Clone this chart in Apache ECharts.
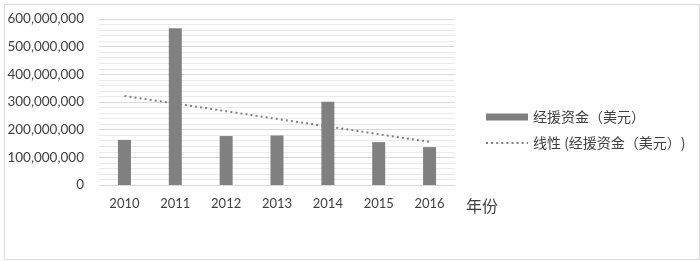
<!DOCTYPE html>
<html>
<head>
<meta charset="utf-8">
<script src="https://cdn.jsdelivr.net/npm/echarts@6/dist/echarts.min.js"></script>
<style>
	html, body { margin: 0; padding: 0; background: #fff; }
	#chart { width: 700px; height: 261px; }
</style>
</head>
<body>
<div id="chart"></div>
<script>
	// 年份
	var years = ['2010', '2011', '2012', '2013', '2014', '2015', '2016'];
	// 经援资金（美元）
	var funds = [163000000, 567000000, 177000000, 179000000, 301000000, 155000000, 137000000];
	// 线性趋势线，两端读自原图
	var trend = [322000000, null, null, null, null, null, 156000000];
	var yTicks = [0, 100000000, 200000000, 300000000, 400000000, 500000000, 600000000];

	var barName = '经援资金（美元）';
	var trendName = '线性 (经援资金（美元）)';

	var myChart = echarts.init(document.getElementById('chart'));
	var option = {
		animation: false,
		backgroundColor: '#fff',
		graphic: [{
			type: 'rect',
			left: 2,
			top: 2,
			shape: { width: 695, height: 255 },
			style: { fill: 'none', stroke: '#d9d9d9', lineWidth: 1 },
			silent: true
		}],
		legend: {
			orient: 'vertical',
			left: 480,
			top: 104,
			itemWidth: 42,
			itemHeight: 7,
			itemGap: 10,
			textStyle: {
				color: '#404040',
				fontSize: 14,
				lineHeight: 16,
				fontFamily: 'Noto Sans CJK SC'
			},
			data: [{
				name: barName,
				icon: 'rect'
			}, {
				name: trendName,
				itemStyle: { opacity: 0 }
			}]
		},
		grid: {
			left: 99,
			right: 245,
			top: 19,
			bottom: 76
		},
		xAxis: {
			type: 'category',
			data: years,
			name: '年份',
			nameLocation: 'end',
			nameGap: 11,
			nameTextStyle: {
				color: '#404040',
				fontSize: 16,
				fontFamily: 'Noto Sans CJK SC',
				verticalAlign: 'top',
				padding: [13, 0, 0, 0]
			},
			axisLine: { lineStyle: { color: '#d9d9d9', width: 1 } },
			axisTick: { show: false },
			axisLabel: {
				color: '#404040',
				fontSize: 13,
				fontFamily: 'Lato',
				margin: 12
			}
		},
		yAxis: {
			type: 'value',
			min: yTicks[0],
			max: yTicks[yTicks.length - 1],
			interval: 100000000,
			axisLine: { show: false },
			axisTick: { show: false },
			axisLabel: {
				color: '#404040',
				fontSize: 13.5,
				fontFamily: 'Lato',
				margin: 15,
				formatter: function (v) {
					return v.toLocaleString('en-US');
				}
			},
			splitLine: { lineStyle: { color: '#d9d9d9', width: 1 } },
			minorTick: { show: false, splitNumber: 5 },
			minorSplitLine: { show: true, lineStyle: { color: '#ebebeb', width: 1 } }
		},
		series: [{
			name: barName,
			type: 'bar',
			barWidth: 13,
			itemStyle: { color: '#808080' },
			data: funds
		}, {
			name: trendName,
			type: 'line',
			symbol: 'none',
			connectNulls: true,
			itemStyle: { color: '#808080' },
			lineStyle: {
				color: '#808080',
				width: 2,
				type: [2, 3.1]
			},
			data: trend
		}]
	};
	myChart.setOption(option);
</script>
</body>
</html>
